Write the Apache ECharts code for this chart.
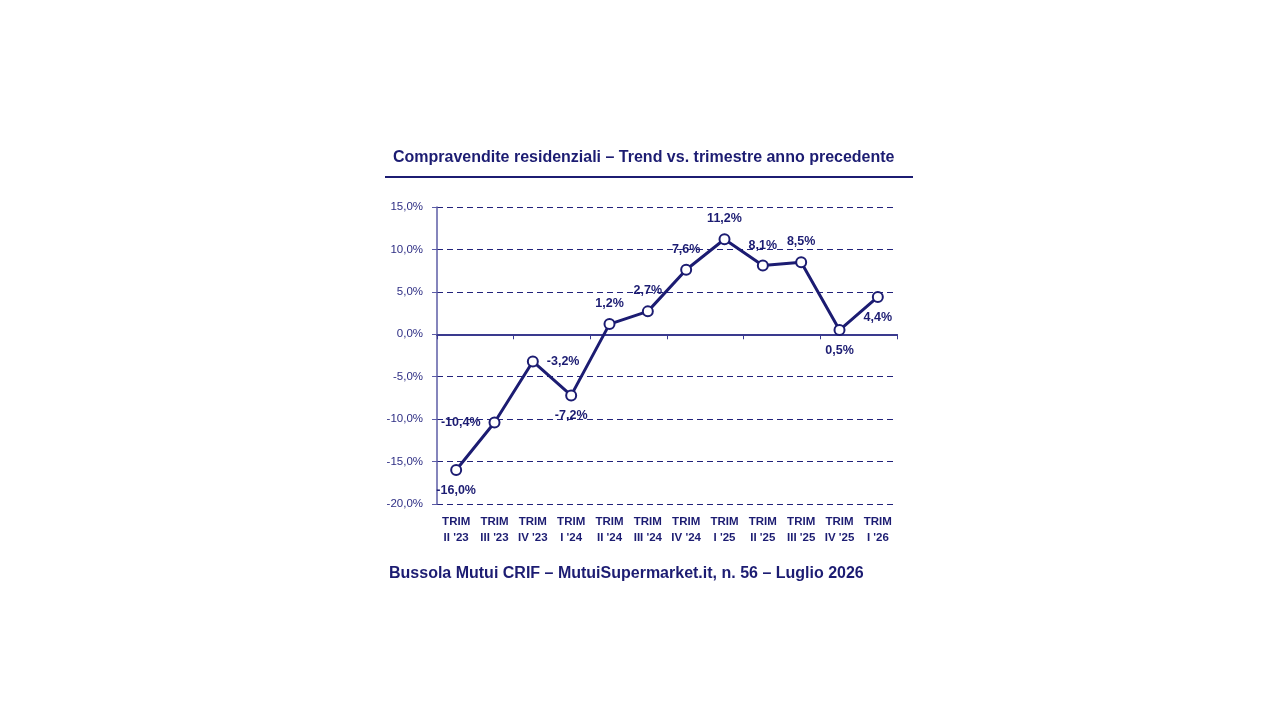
<!DOCTYPE html>
<html><head><meta charset="utf-8">
<script src="https://cdn.jsdelivr.net/npm/echarts@6/dist/echarts.min.js"></script>
<style>html,body{margin:0;padding:0;background:#fff}#c{width:1280px;height:720px}</style>
</head><body><div id="c"></div>
<script>
const categories = ["TRIM\nII '23","TRIM\nIII '23","TRIM\nIV '23","TRIM\nI '24","TRIM\nII '24","TRIM\nIII '24","TRIM\nIV '24","TRIM\nI '25","TRIM\nII '25","TRIM\nIII '25","TRIM\nIV '25","TRIM\nI '26"];
const values = [-16.0,-10.4,-3.2,-7.2,1.2,2.7,7.6,11.2,8.1,8.5,0.5,4.4];
const labelPos = ['bottom','left','right','bottom','top','top','top','top','top','top','bottom','bottom'];
const yTicks = {min:-20, max:15, interval:5};

const navy = '#1c1c72';
const chart = echarts.init(document.getElementById('c'));
const fmt = v => v.toFixed(1).replace('.', ',') + '%';
chart.setOption({
  animation:false,
  title:[{
    text:'Compravendite residenziali – Trend vs. trimestre anno precedente',
    left:388, top:145,
    textStyle:{fontFamily:'Liberation Sans, Arial', fontSize:16, fontWeight:'bold', color:navy}
  },{
    text:'Bussola Mutui CRIF – MutuiSupermarket.it, n. 56 – Luglio 2026',
    left:384, top:561,
    textStyle:{fontFamily:'Liberation Sans, Arial', fontSize:16, fontWeight:'bold', color:navy}
  }],
  graphic:[{type:'line', shape:{x1:385,y1:177,x2:913,y2:177}, style:{stroke:navy,lineWidth:2}}],
  grid:{left:437, right:383, top:207, bottom:216, containLabel:false},
  xAxis:[{
    type:'category', data:categories, position:'bottom',
    axisLine:{onZero:true, lineStyle:{color:'#3a3a8e', width:2}},
    axisTick:{show:true, length:5, lineStyle:{color:'#3a3a8e'}},
    axisLabel:{show:false}
  },{
    type:'category', data:categories, position:'bottom',
    axisLine:{show:false, onZero:false}, axisTick:{show:false},
    axisLabel:{show:true, interval:0, margin:10, color:navy, fontFamily:'Liberation Sans, Arial', fontSize:11.5, fontWeight:'bold', lineHeight:16}
  }],
  yAxis:{
    type:'value', min:yTicks.min, max:yTicks.max, interval:yTicks.interval,
    axisLine:{show:true, lineStyle:{color:'#5c5ca6', width:1.5}},
    axisTick:{show:true, length:5, lineStyle:{color:'#5c5ca6'}},
    axisLabel:{formatter:fmt, color:'#2e2e84', fontFamily:'Liberation Sans, Arial', fontSize:11.5, margin:14},
    splitLine:{show:true, lineStyle:{type:[6,4], color:'#22227a', width:1.2}}
  },
  series:[{
    type:'line', xAxisIndex:0,
    data: values.map((v,i)=>({value:v, label:{position:labelPos[i]}})),
    symbol:'circle', symbolSize:10,
    itemStyle:{color:'#fff', borderColor:navy, borderWidth:2},
    lineStyle:{color:navy, width:3},
    label:{show:true, formatter:p=>fmt(p.value), distance:8, color:navy, fontFamily:'Liberation Sans, Arial', fontSize:12.5, fontWeight:'bold'}
  }]
});
</script></body></html>
